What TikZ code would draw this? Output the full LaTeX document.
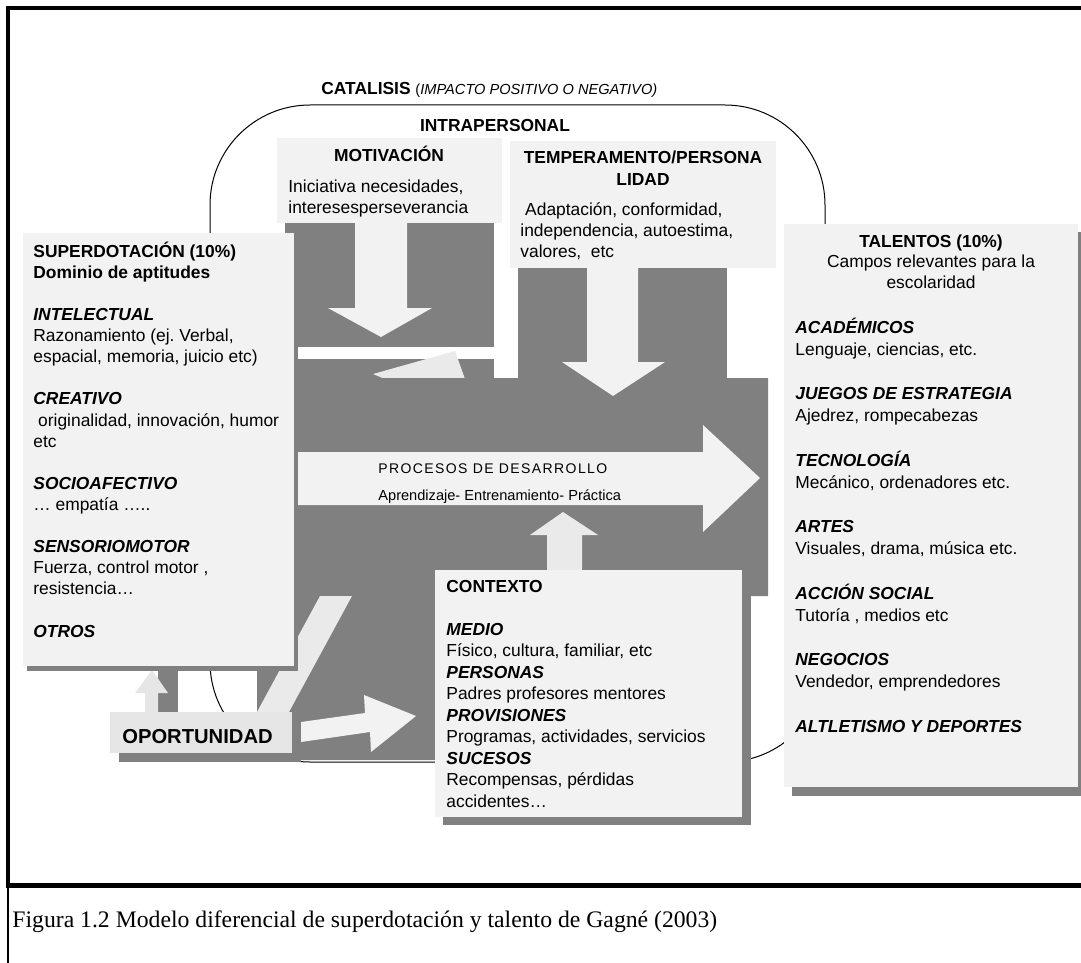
\documentclass[tikz,border=0pt]{standalone}
\usepackage{fontspec}
\setmainfont{Liberation Sans}
\newfontfamily\capfont{Liberation Serif}
\newfontfamily\procfont[LetterSpace=10]{Liberation Sans}
\usepackage{tikz}
\frenchspacing

\definecolor{boxfill}{HTML}{F2F2F2}
\definecolor{darkfill}{HTML}{808080}
\definecolor{oppfill}{HTML}{E6E6E6}
\definecolor{arrfill}{HTML}{EAEAEA}

\newcommand{\bihead}[1]{\textbf{\textit{#1}}}

\tikzset{
  gblock/.style={fill=darkfill},
  lbox/.style={fill=boxfill},
  txtblk/.style={anchor=base west,align=left,inner sep=0pt},
  txtmid/.style={anchor=base,align=center,inner sep=0pt},
  fs/.style={font=\fontsize{8.7}{#1}\selectfont}
}

\begin{document}
\begin{tikzpicture}[x=0.5pt,y=-0.5pt]
\useasboundingbox (0,0) rectangle (1081,963);

% frame
\draw [line width=2pt] (6,8) -- (1081,8);
\draw [line width=2pt] (8,6) -- (8,886);
\draw [line width=2.5pt] (6,885.5) -- (1081,885.5);
\draw [line width=1pt] (7.5,886) -- (7.5,963);

% catalisis outline
\draw [line width=0.5pt,rounded corners=50pt] (210,105) rectangle (825,762);

% dark background blocks
\fill [gblock] (285,223) rectangle (494,347);
\fill [gblock] (294,359) rectangle (494,379);
\fill [gblock] (518,268) rectangle (727,379);
\fill [arrfill] (373,374) -- (455,351) -- (465,379) -- (385,379) -- cycle;
\fill [gblock] (294,378) -- (768,378) -- (768,596) -- (440,596) -- (440,760) -- (257,760) -- (257,600) -- (294,600) -- cycle;
\fill [gblock] (158,668) rectangle (178,712);
\fill [arrfill] (257,712) -- (320,596) -- (352,596) -- (289,712) -- cycle;

% block arrows
\fill [lbox] (355,223) -- (407,223) -- (407,308) -- (432,308) -- (381,337) -- (328,308) -- (355,308) -- cycle;
\fill [lbox] (587,268) -- (638,268) -- (638,362) -- (665,362) -- (613,396) -- (562,362) -- (587,362) -- cycle;
\fill [lbox] (293,452) -- (703,452) -- (703,425) -- (760,478) -- (703,532) -- (703,505) -- (293,505) -- cycle;
\fill [arrfill] (547,570) -- (547,535) -- (530,535) -- (563,512) -- (598,535) -- (582,535) -- (582,570) -- cycle;
\fill [oppfill] (145,712) -- (145,693) -- (135,693) -- (152,670) -- (168,693) -- (158,693) -- (158,712) -- cycle;

% boxes
\fill [gblock] (27,238) rectangle (298,671);
\fill [lbox] (23,233) rectangle (294,666);
\fill [lbox] (277,138) rectangle (502,223);
\fill [lbox] (510,141) rectangle (776,268);
\fill [gblock] (792,232) rectangle (1086,796);
\fill [lbox] (784,224) rectangle (1078,787);
\fill [gblock] (443,578) rectangle (751,825);
\fill [lbox] (435,570) rectangle (742,817);
\fill [gblock] (119,721) rectangle (301,762);
\fill [oppfill] (110,712) rectangle (292,753);
\fill [lbox] (301,722) -- (365,713) -- (364,695) -- (416,716) -- (371,752) -- (370,732) -- (301,742) -- cycle;

% texts (multi-line nodes sit on the baseline of their last line)
\node (catal) at (321,95)[txtblk,fs=10] {\textbf{CATALISIS} {\fontsize{7.3}{9}\selectfont (\textit{IMPACTO POSITIVO O NEGATIVO)}}};
\node (intra) at (495,132)[txtmid,fs=10] {\textbf{INTRAPERSONAL}};

\node (motivt) at (389,162)[txtmid,fs=10] {\textbf{MOTIVACIÓN}};
\node (motivx) at (288,213)[txtblk,fs=10] {Iniciativa necesidades,\\interesesperseverancia};

\node (tempt) at (643,185)[txtmid,fs=11] {\textbf{TEMPERAMENTO/PERSONA}\\\textbf{LIDAD}};
\node (tempx) at (520,257)[txtblk,fs=10.5] {~Adaptación, conformidad,\\independencia, autoestima,\\valores,~ etc};

\node (superx) at (33,637)[txtblk,fs=10.55] {\textbf{SUPERDOTACIÓN (10\%)}\\\textbf{Dominio de aptitudes}\\[10.55pt]
  \bihead{INTELECTUAL}\\Razonamiento (ej. Verbal,\\espacial, memoria, juicio etc)\\[10.55pt]
  \bihead{CREATIVO}\\~originalidad, innovación, humor\\etc\\[10.55pt]
  \bihead{SOCIOAFECTIVO}\\… empatía …..\\[10.55pt]
  \bihead{SENSORIOMOTOR}\\Fuerza, control motor ,\\resistencia…\\[10.55pt]
  \bihead{OTROS}};

\node (talt) at (931,288)[txtmid,fs=10.25] {\textbf{TALENTOS (10\%)}\\Campos relevantes para la\\escolaridad};
\node (talx) at (795,732)[txtblk,fs=11.08] {\bihead{ACADÉMICOS}\\Lenguaje, ciencias, etc.\\[11.08pt]
  \bihead{JUEGOS DE ESTRATEGIA}\\Ajedrez, rompecabezas\\[11.08pt]
  \bihead{TECNOLOGÍA}\\Mecánico, ordenadores etc.\\[11.08pt]
  \bihead{ARTES}\\Visuales, drama, música etc.\\[11.08pt]
  \bihead{ACCIÓN SOCIAL}\\Tutoría , medios etc\\[11.08pt]
  \bihead{NEGOCIOS}\\Vendedor, emprendedores\\[11.08pt]
  \bihead{ALTLETISMO Y DEPORTES}};

\node (contx) at (446,807)[txtblk,fs=10.75] {\textbf{CONTEXTO}\\[10.75pt]
  \bihead{MEDIO}\\Físico, cultura, familiar, etc\\
  \bihead{PERSONAS}\\Padres profesores mentores\\
  \bihead{PROVISIONES}\\Programas, actividades, servicios\\
  \bihead{SUCESOS}\\Recompensas, pérdidas\\accidentes…};

\node (proct) at (378,473)[txtblk,font=\procfont\fontsize{7}{8}\selectfont] {PROCESOS DE DESARROLLO};
\node (procx) at (378,500)[txtblk,font=\fontsize{7.3}{9}\selectfont] {Aprendizaje- Entrenamiento- Práctica};

\node (oport) at (197.5,743)[txtmid,font=\fontsize{10.1}{12}\selectfont\bfseries] {OPORTUNIDAD};

\node (capt) at (12,927)[txtblk,font=\capfont\fontsize{11.85}{14}\selectfont] {Figura 1.2 Modelo diferencial de superdotación y talento de Gagné (2003)};
\end{tikzpicture}
\end{document}
